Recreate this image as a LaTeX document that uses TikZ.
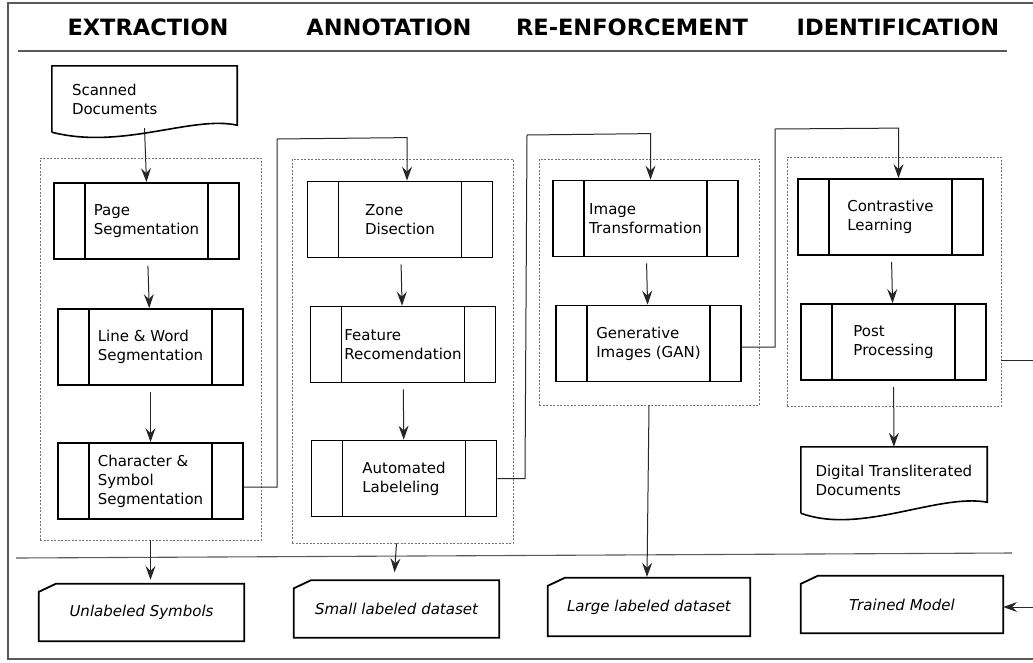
\documentclass[tikz,border=0pt]{standalone}
\usepackage{fontspec}
\setmainfont{DejaVu Sans}
\usetikzlibrary{arrows.meta,calc}
\newcommand\procfont{\fontsize{15}{19}\selectfont}
\newcommand\headfont{\fontsize{22.5}{26}\selectfont\bfseries}
\tikzset{
	>={Stealth[length=14pt,width=10pt,inset=5pt]},
	head/.style={font=\headfont, inner sep=0pt},
	process/.style={draw, line width=1.8pt, minimum width=185pt, minimum height=76pt, inner sep=0pt, align=left, font=\procfont,
		path picture={\draw[line width=1.8pt] ([xshift=31pt]path picture bounding box.north west) -- ([xshift=31pt]path picture bounding box.south west);
			\draw[line width=1.8pt] ([xshift=-31pt]path picture bounding box.north east) -- ([xshift=-31pt]path picture bounding box.south east);}},
	docnode/.style={minimum width=185pt, minimum height=66pt, inner sep=0pt, align=left, font=\procfont},
	docline/.style={line width=1.6pt},
	cardnode/.style={minimum width=205pt, minimum height=57pt, inner sep=0pt, font=\procfont\itshape},
	cardline/.style={line width=1.8pt},
	group/.style={draw=black!55, dash pattern=on 2pt off 1.5pt, line width=0.7pt, inner sep=0pt},
	conn/.style={draw=black!85, line width=1pt},
	flow/.style={conn, ->, shorten <=6pt},
	frame/.style={draw=black!65, line width=1.1pt}
}
\begin{document}
\begin{tikzpicture}[x=1pt, y=-1pt]
	\useasboundingbox (0,0) rectangle (1033,662);
	% frame and separators
	\draw[frame] (1033,3) -- (8,3) -- (8,659) -- (1033,659);
	\draw[frame] (18,51) -- (1007,51);
	\draw[frame] (16,558) -- (1012,553);

	% stage headings
	\node[head] (hExt) at (148,27) {EXTRACTION};
	\node[head] (hAnn) at (389,27) {ANNOTATION};
	\node[head] (hRe) at (632,27) {RE-ENFORCEMENT};
	\node[head] (hId) at (898,27) {IDENTIFICATION};

	% stage groups
	\node[group, minimum width=221pt, minimum height=382pt] (gExt) at (150.5,349) {};
	\node[group, minimum width=221pt, minimum height=384pt] (gAnn) at (402.5,351) {};
	\node[group, minimum width=220pt, minimum height=246pt] (gRe) at (649,282) {};
	\node[group, minimum width=214pt, minimum height=249pt] (gId) at (894,281.5) {};

	% input document
	\node[docnode, text width=145pt] (scan) at (144.5,99) {Scanned\\Documents};
	\draw[docline] (scan.south west) -- (scan.north west) -- (scan.north east) -- ($(scan.south east)+(0,-7)$)
		.. controls ($(scan.south east)+(-45,-17)$) and ($(scan.south west)+(70,18)$) .. (scan.south west);

	% extraction
	\node[process] (page) at (146.5,221) {Page\\Segmentation};
	\node[process] (line) at (150.5,347) {Line \& Word\\Segmentation};
	\node[process] (char) at (150.5,481) {Character \&\\Symbol\\Segmentation};

	% annotation
	\node[process] (zone) at (400,219.5) {Zone\\Disection};
	\node[process] (feat) at (403,344.5) {Feature\\Recomendation};
	\node[process] (auto) at (404,478.5) {Automated\\Labeleling};

	% re-enforcement
	\node[process] (imgt) at (645.5,218.5) {Image\\Transformation};
	\node[process] (gan) at (648.5,343.5) {Generative\\Images (GAN)};

	% identification
	\node[process] (contr) at (890.5,217) {Contrastive\\Learning};
	\node[process] (post) at (893.5,342) {Post\\Processing};
	\node[docnode, minimum width=186pt, text width=157pt] (dtd) at (894,480) {Digital Transliterated\\Documents};
	\draw[docline] (dtd.south west) -- (dtd.north west) -- (dtd.north east) -- ($(dtd.south east)+(0,-11)$)
		.. controls ($(dtd.south east)+(-50,-20)$) and ($(dtd.south west)+(60,22)$) .. (dtd.south west);

	% outputs
	\node[cardnode] (unl) at (141.5,612.5) {Unlabeled Symbols};
	\node[cardnode] (small) at (396.5,609) {Small labeled dataset};
	\node[cardnode, minimum width=202pt, minimum height=58pt] (large) at (649,607) {Large labeled dataset};
	\node[cardnode, minimum width=202pt] (trained) at (902,604.5) {Trained Model};
	\foreach \c in {unl,small,large,trained}
		\draw[cardline] ($(\c.north west)+(0,8)$) -- ($(\c.north west)+(17,0)$) -- (\c.north east)
			-- (\c.south east) -- (\c.south west) -- cycle;

	% flow inside stages
	\draw[conn, ->] ($(scan.south)+(0,-4)$) -- (page.north);
	\draw[flow] (page) -- (line);
	\draw[flow] (line) -- (char);
	\draw[flow] (zone) -- (feat);
	\draw[flow] (feat) -- (auto);
	\draw[flow] (imgt) -- (gan);
	\draw[flow] (contr) -- (post);
	\draw[flow] (post) -- (dtd);

	% links between stages
	\draw[conn, ->] ($(char.east)+(0,6)$) -- (277,487) -- (277,139) -- ($(zone.north)+(7,-43)$) -- ($(zone.north)+(7,0)$);
	\draw[conn, ->] (auto.east) -- (525,478.5) -- (527,135) -- ($(imgt.north)+(5,-46)$) -- ($(imgt.north)+(5,0)$);
	\draw[conn, ->] ($(gan.east)+(0,3.5)$) -- (775,347) -- (775,129) -- ($(contr.north)+(8,-50)$) -- ($(contr.north)+(8,0)$);
	\coordinate (edgeA) at (1033,360);
	\coordinate (edgeB) at (1033,607);
	\draw[conn] (gId.east |- edgeA) -- (edgeA);
	\draw[conn, ->] (edgeB) -- (trained.east |- edgeB);

	% stage outputs
	\draw[conn, ->] (gExt.south) -- ($(gExt.south |- unl.north)+(0,-4)$);
	\draw[conn, ->] (small.north |- gAnn.south) -- ($(small.north)+(-2,-8)$);
	\draw[conn, ->] (large.north |- gRe.south) -- ($(large.north)+(-2,-1)$);
\end{tikzpicture}
\end{document}
